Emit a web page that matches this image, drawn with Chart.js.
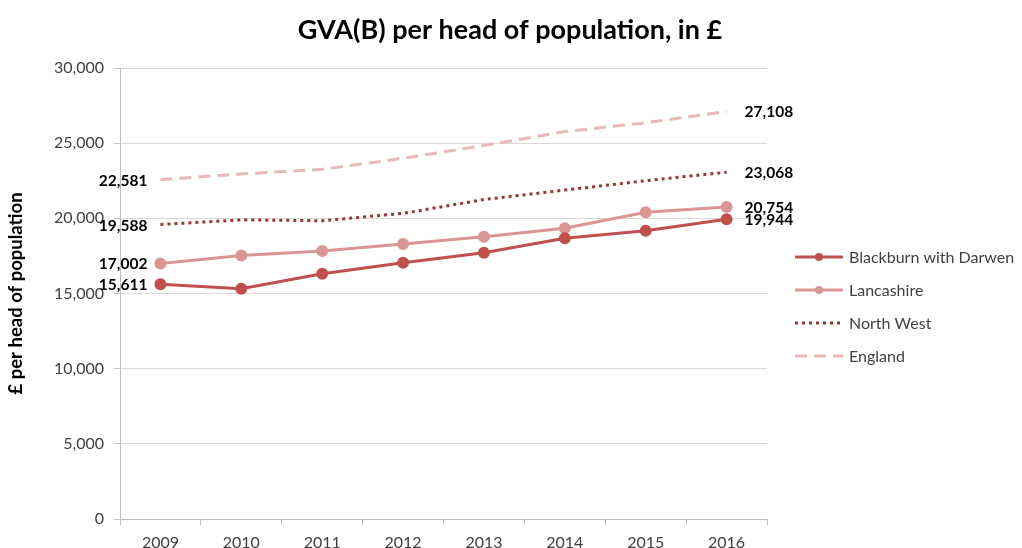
<!DOCTYPE html>
<html>
<head>
<meta charset="utf-8">
<script src="https://cdn.jsdelivr.net/npm/chart.js@4.4.1/dist/chart.umd.min.js"></script>
<style>
    html, body { margin: 0; padding: 0; background: #fff; }
    #wrap { width: 1022px; height: 548px; position: relative; }
</style>
</head>
<body>
<div id="wrap"><canvas id="gvaChart"></canvas></div>
<script>
// 数据
const years = ['2009', '2010', '2011', '2012', '2013', '2014', '2015', '2016'];
const seriesNames = ['Blackburn with Darwen', 'Lancashire', 'North West', 'England'];
const blackburn = [15611, 15320, 16320, 17050, 17710, 18670, 19180, 19944];
const lancashire = [17002, 17520, 17830, 18290, 18780, 19340, 20400, 20754];
const northWest = [19588, 19900, 19840, 20330, 21250, 21880, 22500, 23068];
const england = [22581, 22950, 23260, 23990, 24850, 25770, 26360, 27108];
const yTicks = [0, 5000, 10000, 15000, 20000, 25000, 30000];

const TITLE = 'GVA(B) per head of population, in £';
const FONT = 'Lato, "Liberation Sans", sans-serif';

const fmt = v => v.toLocaleString('en-GB');

/**
 * 标题（整幅居中）
 */
const pageTitle = {
    id: 'pageTitle',
    afterDraw(chart) {
        const ctx = chart.ctx;
        ctx.save();
        ctx.font = 'bold 27px ' + FONT;
        ctx.fillStyle = '#000';
        ctx.textAlign = 'center';
        ctx.textBaseline = 'middle';
        ctx.fillText(TITLE, 510, 30);
        ctx.restore();
    }
};

/**
 * 首尾数值标签
 */
const endLabels = {
    id: 'endLabels',
    afterDatasetsDraw(chart) {
        const ctx = chart.ctx;
        ctx.save();
        ctx.font = 'bold 15.5px ' + FONT;
        ctx.fillStyle = '#000';
        ctx.textBaseline = 'middle';
        chart.data.datasets.forEach((ds, i) => {
            const meta = chart.getDatasetMeta(i);
            const first = meta.data[0];
            const last = meta.data[meta.data.length - 1];
            ctx.textAlign = 'right';
            ctx.fillText(fmt(ds.data[0]), first.x - 13, first.y + 1);
            ctx.textAlign = 'left';
            ctx.fillText(fmt(ds.data[ds.data.length - 1]), last.x + 18, last.y + 1);
        });
        ctx.restore();
    }
};

/**
 * 右侧图例（线段加圆点）
 */
const sideLegend = {
    id: 'sideLegend',
    afterDraw(chart) {
        const ctx = chart.ctx;
        const x0 = chart.chartArea.right + 28;
        const rowGap = 33;
        const y0 = 257;
        ctx.save();
        chart.data.datasets.forEach((ds, i) => {
            const y = y0 + i * rowGap;
            ctx.strokeStyle = ds.borderColor;
            ctx.lineWidth = ds.borderWidth;
            ctx.setLineDash(ds.borderDash || []);
            ctx.beginPath();
            ctx.moveTo(x0, y);
            ctx.lineTo(x0 + 48, y);
            ctx.stroke();
            ctx.setLineDash([]);
            if (ds.pointRadius > 0) {
                ctx.fillStyle = ds.borderColor;
                ctx.beginPath();
                ctx.arc(x0 + 24, y, 4, 0, Math.PI * 2);
                ctx.fill();
            }
            ctx.fillStyle = '#404040';
            ctx.font = '16px ' + FONT;
            ctx.textAlign = 'left';
            ctx.textBaseline = 'middle';
            ctx.fillText(ds.label, x0 + 54, y + 1);
        });
        ctx.restore();
    }
};

function buildChart() {
    const ctx = document.getElementById('gvaChart').getContext('2d');
    new Chart(ctx, {
        type: 'line',
        data: {
            labels: years,
            datasets: [
                {
                    label: seriesNames[0],
                    data: blackburn,
                    borderColor: '#c0504d',
                    backgroundColor: '#c0504d',
                    borderWidth: 3,
                    pointRadius: 4.5,
                    pointHoverRadius: 4.5,
                    tension: 0
                },
                {
                    label: seriesNames[1],
                    data: lancashire,
                    borderColor: '#d99694',
                    backgroundColor: '#d99694',
                    borderWidth: 3,
                    pointRadius: 4.5,
                    pointHoverRadius: 4.5,
                    tension: 0
                },
                {
                    label: seriesNames[2],
                    data: northWest,
                    borderColor: '#953735',
                    backgroundColor: '#953735',
                    borderWidth: 3,
                    borderDash: [3, 4],
                    pointRadius: 0,
                    tension: 0
                },
                {
                    label: seriesNames[3],
                    data: england,
                    borderColor: '#e6b9b8',
                    backgroundColor: '#e6b9b8',
                    borderWidth: 3,
                    borderDash: [12, 7],
                    pointRadius: 0,
                    tension: 0
                }
            ]
        },
        options: {
            responsive: true,
            maintainAspectRatio: false,
            animation: false,
            layout: {
                padding: { left: 0, right: 255, top: 68, bottom: 0 }
            },
            plugins: {
                legend: { display: false },
                tooltip: { enabled: false },
                title: { display: false }
            },
            scales: {
                x: {
                    offset: true,
                    grid: {
                        offset: true,
                        drawOnChartArea: false,
                        drawTicks: true,
                        tickLength: 6,
                        color: '#bfbfbf'
                    },
                    border: { color: '#bfbfbf' },
                    ticks: {
                        color: '#404040',
                        font: { family: FONT, size: 16 },
                        padding: 8
                    },
                    afterFit(scale) { scale.height = 29; }
                },
                y: {
                    min: 0,
                    max: 30000,
                    afterBuildTicks(scale) {
                        scale.ticks = yTicks.map(v => ({ value: v }));
                    },
                    grid: {
                        color: '#d9d9d9',
                        tickLength: 6,
                        tickColor: '#bfbfbf'
                    },
                    border: { color: '#bfbfbf' },
                    ticks: {
                        color: '#404040',
                        font: { family: FONT, size: 16 },
                        padding: 10,
                        callback: v => fmt(v)
                    },
                    title: {
                        display: true,
                        text: '£ per head of population',
                        color: '#000',
                        font: { family: FONT, size: 18.5, weight: 'bold' },
                        padding: { top: 5, bottom: 0 }
                    },
                    afterFit(scale) { scale.width = 120; }
                }
            }
        },
        plugins: [endLabels, sideLegend, pageTitle]
    });
}

if (document.readyState === 'loading') {
    document.addEventListener('DOMContentLoaded', buildChart);
} else {
    buildChart();
}
</script>
</body>
</html>
